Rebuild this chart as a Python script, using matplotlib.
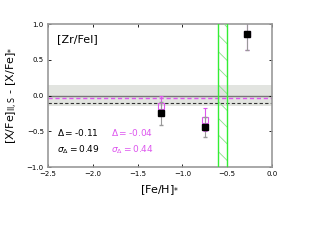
import matplotlib
matplotlib.use("Agg")
import matplotlib.pyplot as plt
import numpy as np

# data
feh_black = [-1.24, -0.75, -0.28]
dx_black = [-0.25, -0.44, 0.86]
err_black = [0.16, 0.14, 0.22]

feh_mag = [-1.24, -0.75, -0.28]
dx_mag = [-0.14, -0.34, 0.86]
err_mag = [0.14, 0.16, 0.22]

mean_black, sig_black = -0.11, 0.49
mean_mag, sig_mag = -0.04, 0.44
band = 0.15
span_lo, span_hi = -0.6, -0.5

grey = "#999999"
mag = "#dd55ee"
green = "#33ee33"

plt.rcParams["hatch.linewidth"] = 0.6

fig = plt.figure(figsize=(3.2, 2.4), dpi=100)
ax = fig.add_axes([0.15, 0.304, 0.70, 0.596])

ax.axhspan(-band, band, color="#e2e4e0", lw=0, zorder=0)
ax.axhline(0, color="#777777", lw=1.0, zorder=1)
ax.axhline(mean_mag, color=mag, ls="--", lw=1.0, dashes=(3, 2), zorder=2)
ax.axhline(mean_black, color="#333333", ls="--", lw=0.8, dashes=(3, 2), zorder=2)
# hatched region: light hatch, bright edges
ax.axvspan(span_lo, span_hi, facecolor="none", edgecolor="#88e088",
           hatch="\\\\", lw=0, zorder=3)
ax.axvline(span_lo, color=green, lw=1.0, zorder=3)
ax.axvline(span_hi, color=green, lw=1.0, zorder=3)

ax.errorbar(feh_mag, dx_mag, yerr=err_mag, fmt="s", mfc="none", mec=mag,
            ecolor=mag, ms=5, mew=0.8, elinewidth=0.8, capsize=1.5, zorder=4)
ax.errorbar(feh_black, dx_black, yerr=err_black, fmt="s", color="black",
            ecolor=grey, ms=5, elinewidth=0.8, capsize=1.5, zorder=5)

ax.text(0.04, 0.93, "[Zr/FeI]", transform=ax.transAxes, fontsize=8,
        va="top", ha="left")
ax.text(0.04, 0.24, r"$\Delta = $" + f"{mean_black:.2f}", transform=ax.transAxes,
        fontsize=6.5, va="center", ha="left")
ax.text(0.04, 0.12, r"$\sigma_\Delta = $" + f"{sig_black:.2f}", transform=ax.transAxes,
        fontsize=6.5, va="center", ha="left")
ax.text(0.28, 0.24, r"$\Delta = $" + f"{mean_mag:.2f}", transform=ax.transAxes,
        fontsize=6.5, va="center", ha="left", color=mag)
ax.text(0.28, 0.12, r"$\sigma_\Delta = $" + f"{sig_mag:.2f}", transform=ax.transAxes,
        fontsize=6.5, va="center", ha="left", color=mag)

ax.set_xlim(-2.5, 0.0)
ax.set_ylim(-1.0, 1.0)
ax.set_xticks(np.arange(-2.5, 0.01, 0.5))
ax.set_yticks(np.arange(-1.0, 1.01, 0.5))
ax.tick_params(labelsize=5, length=2, width=0.6, direction="in",
               top=True, right=True, pad=3)
for s in ax.spines.values():
    s.set_color(grey)
    s.set_linewidth(1.2)

ax.set_xlabel(r"[Fe/H]$_{*}$", fontsize=8)
ax.set_ylabel(r"[X/Fe]$_{\rm II,S}$ - [X/Fe]$_{*}$", fontsize=8)
ax.yaxis.set_label_coords(-0.125, 0.5)

fig.savefig("out.png", dpi=100)
